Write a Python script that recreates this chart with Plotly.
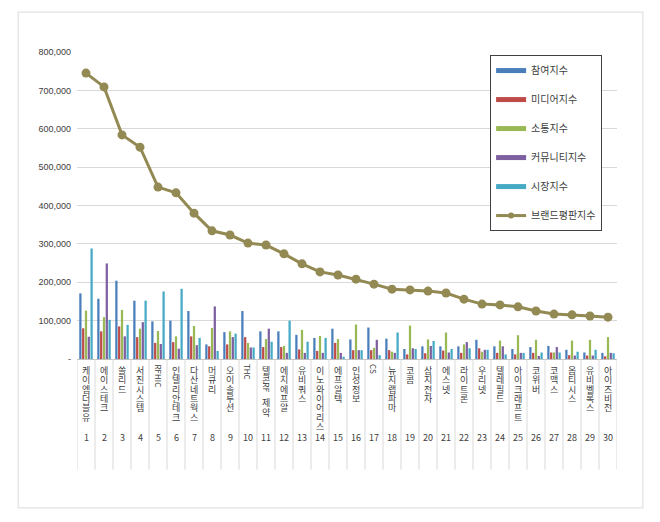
import plotly.graph_objects as go

# 5G 관련주 브랜드평판 (30개사)
companies = ["케이엠더블유", "에이스테크", "쏠리드", "서진시스템", "RFHIC",
             "인텔리안테크", "다산네트웍스", "머큐리", "오이솔루션", "THC",
             "텔콘RF제약", "에치에프알", "유비쿼스", "이노와이어리스", "에프알텍",
             "인성정보", "CS", "뉴지랩파마", "코콤", "삼지전자",
             "에스넷", "라이트론", "우리넷", "텔레필드", "아이크래프트",
             "코위버", "코맥스", "옵티시스", "유비벨록스", "아이즈비전"]
ranks = list(range(1, 31))

participation = [171000, 157000, 204000, 152000, 98000, 100000, 125000, 38000, 70000, 125000,
                 72000, 72000, 63000, 55000, 79000, 51000, 82000, 53000, 26000, 33000,
                 33000, 33000, 50000, 33000, 26000, 31000, 34000, 24000, 17000, 16000]
media = [80000, 72000, 85000, 57000, 42000, 44000, 59000, 33000, 38000, 57000,
         31000, 31000, 25000, 21000, 42000, 23000, 23000, 23000, 12000, 15000,
         22000, 16000, 28000, 16000, 12000, 16000, 17000, 10000, 9000, 7000]
communication = [126000, 109000, 128000, 79000, 73000, 59000, 86000, 81000, 72000, 42000,
                 52000, 34000, 76000, 60000, 52000, 90000, 29000, 19000, 87000, 51000,
                 69000, 38000, 19000, 48000, 62000, 50000, 17000, 48000, 50000, 57000]
community = [58000, 249000, 59000, 96000, 39000, 27000, 36000, 137000, 57000, 30000,
             79000, 16000, 16000, 16000, 16000, 23000, 50000, 16000, 28000, 34000,
             17000, 44000, 24000, 33000, 16000, 8000, 31000, 9000, 9000, 16000]
market = [288000, 102000, 89000, 152000, 176000, 183000, 55000, 21000, 66000, 30000,
          45000, 100000, 45000, 55000, 6000, 23000, 10000, 69000, 26000, 47000,
          26000, 28000, 24000, 12000, 16000, 17000, 17000, 19000, 24000, 15000]
brand_index = [745000, 709000, 584000, 552000, 448000, 433000, 380000, 334000, 323000, 302000,
               297000, 274000, 248000, 227000, 219000, 208000, 195000, 182000, 180000, 177000,
               172000, 156000, 143000, 141000, 136000, 125000, 117000, 115000, 112000, 109000]

y_ticks = [0, 100000, 200000, 300000, 400000, 500000, 600000, 700000, 800000]
y_ticktext = ["-", "100,000", "200,000", "300,000", "400,000", "500,000",
              "600,000", "700,000", "800,000"]

bar_series = [
    ("참여지수", participation, "#4A7EBB"),
    ("미디어지수", media, "#BE4B48"),
    ("소통지수", communication, "#98B954"),
    ("커뮤니티지수", community, "#7D60A0"),
    ("시장지수", market, "#46AAC5"),
]

KFONT = "Noto Sans CJK KR"
fig = go.Figure()

for name, vals, color in bar_series:
    fig.add_trace(go.Bar(x=ranks, y=vals, name=name, marker_color=color,
                         marker_line_width=0, showlegend=False))

fig.add_trace(go.Scatter(x=ranks, y=brand_index, name="브랜드평판지수", mode="lines+markers",
                         line=dict(color="#938953", width=3),
                         marker=dict(size=9, color="#938953"), showlegend=False))

# legend entries drawn as short lines, like the original
for i, (name, vals, color) in enumerate(bar_series):
    fig.add_trace(go.Scatter(x=[None], y=[None], name=name, mode="lines",
                             line=dict(color=color, width=5), legendgroup=str(i)))
fig.add_trace(go.Scatter(x=[None], y=[None], name="브랜드평판지수", mode="lines+markers",
                         line=dict(color="#938953", width=3),
                         marker=dict(size=6, color="#938953"), legendgroup="6"))

annotations = []
for r, label in zip(ranks, companies):
    # split label into Hangul chars (stacked) and Latin runs (rotated)
    tokens = []
    run = ""
    for ch in label:
        if ch.isascii():
            run += ch
        else:
            if run:
                tokens.append(run)
                run = ""
            tokens.append(ch)
    if run:
        tokens.append(run)
    offset = 4
    for tok in tokens:
        if tok.isascii():
            annotations.append(dict(x=r, y=0, xref="x", yref="paper", text=tok, textangle=90,
                                    showarrow=False, yanchor="top", xanchor="center",
                                    borderpad=0, yshift=-offset,
                                    font=dict(family=KFONT, size=8, color="#404040")))
            offset += 5.8 * len(tok) + 2
        else:
            annotations.append(dict(x=r, y=0, xref="x", yref="paper", text=tok,
                                    showarrow=False, yanchor="top", xanchor="center",
                                    borderpad=0, yshift=-offset,
                                    font=dict(family=KFONT, size=9, color="#404040")))
            offset += 9.3
    annotations.append(dict(x=r, y=0, xref="x", yref="paper", text=str(r), showarrow=False,
                            yanchor="middle", xanchor="center", yshift=-78,
                            font=dict(family=KFONT, size=9, color="#404040")))

shapes = []
for b in [r - 0.5 for r in ranks] + [30.5]:
    shapes.append(dict(type="line", xref="x", yref="paper", x0=b, x1=b, y0=0, y1=-0.36,
                       line=dict(color="#D9D9D9", width=1)))
shapes.append(dict(type="rect", xref="paper", yref="paper", x0=-0.109, x1=1.048,
                   y0=-0.485, y1=1.13, line=dict(color="#D9D9D9", width=1)))

fig.update_layout(
    width=660, height=522,
    margin=dict(l=69, r=51, t=44, b=171),
    paper_bgcolor="white", plot_bgcolor="white",
    barmode="group", bargap=0.22, bargroupgap=0.2,
    font=dict(family=KFONT, size=10, color="#404040"),
    legend=dict(x=0.765, y=0.99, xanchor="left", yanchor="top",
                bgcolor="white", bordercolor="#404040", borderwidth=1,
                font=dict(family=KFONT, size=10, color="#404040"),
                tracegroupgap=10, itemwidth=30),
    annotations=annotations,
    shapes=shapes,
)
fig.update_xaxes(range=[0.5, 30.5], showticklabels=False, showgrid=False, ticks="",
                 showline=True, linecolor="#BFBFBF", zeroline=False)
fig.update_yaxes(range=[0, 800000], tickvals=y_ticks, ticktext=y_ticktext,
                 gridcolor="#D9D9D9", showline=False, zeroline=False, ticklabelstandoff=5,
                 tickfont=dict(family="Liberation Sans", size=9, color="#404040"), ticks="")

fig.write_html("out.html")
